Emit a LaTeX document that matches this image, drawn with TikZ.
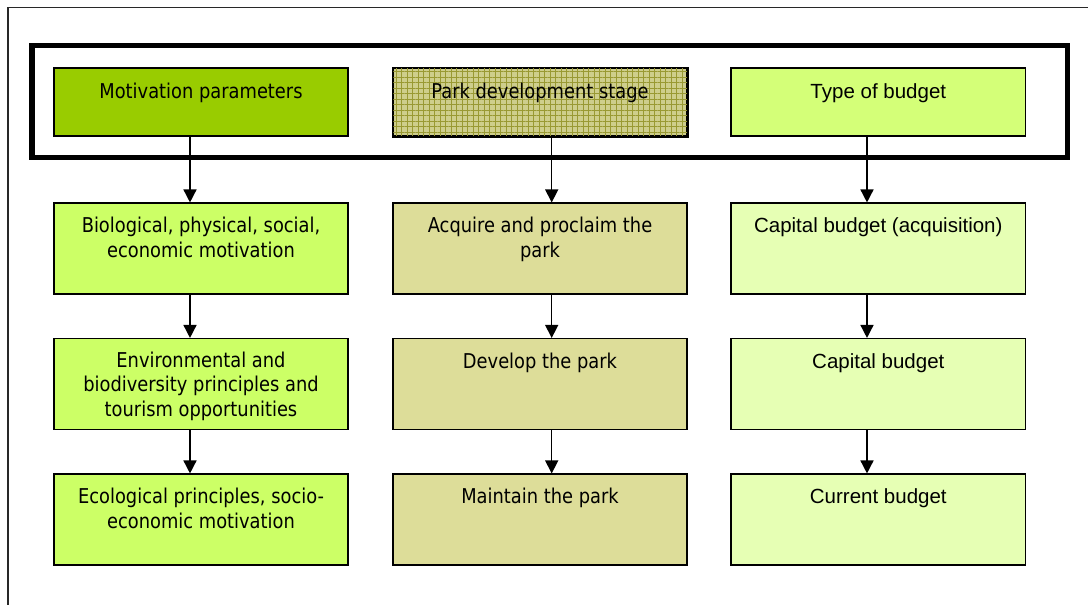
\documentclass[tikz,border=0pt]{standalone}
\usepackage{fontspec}
\usetikzlibrary{arrows.meta,patterns.meta}
\newfontfamily\tahomalike[FakeStretch=0.875]{DejaVu Sans}
\newfontfamily\ariallike{Liberation Sans}
\definecolor{hdrone}{RGB}{153,204,0}
\definecolor{rowone}{RGB}{204,255,102}
\definecolor{hdrtwo}{RGB}{206,206,140}
\definecolor{gridtwo}{RGB}{153,153,51}
\definecolor{rowtwo}{RGB}{221,221,153}
\definecolor{hdrthree}{RGB}{212,255,120}
\definecolor{rowthree}{RGB}{230,255,180}
\definecolor{framegrey}{RGB}{40,40,40}
\tikzset{
  box/.style={draw=black, line width=1.5pt, rectangle, inner sep=0pt, minimum width=294pt},
  hdrbox/.style={box, minimum height=68pt},
  rowbox/.style={box, minimum height=91pt},
  txtl/.style={inner sep=0pt, anchor=north, align=center, text=black,
    font=\tahomalike\fontsize{20.4}{24.6}\selectfont},
  txtr/.style={inner sep=0pt, anchor=north, align=center, text=black,
    font=\ariallike\fontsize{20.5}{24.6}\selectfont},
  arr/.style={draw=black, line width=1.5pt, -{Triangle[width=13pt,length=13pt]}},
}
\newcommand{\firstline}{\rule{0pt}{17pt}}
\begin{document}
\begin{tikzpicture}[x=1pt,y=-1pt]
\useasboundingbox (0,0) rectangle (1088,605);
% outer frame (left and top only visible)
\coordinate (fbl) at (8,606);
\coordinate (ftl) at (8,7.5);
\coordinate (ftr) at (1089,7.5);
\draw[framegrey, line width=1.6pt] (fbl) -- (ftl) -- (ftr);
% thick header frame
\coordinate (thtl) at (32,45.5);
\coordinate (thbr) at (1067.5,157.5);
\draw[black, line width=5.5pt] (thtl) rectangle (thbr);
% header boxes
\node[hdrbox, fill=hdrone] (h1) at (201,102) {};
\node[hdrbox, fill=hdrtwo] (h2) at (540,102) {};
\fill[pattern={Hatch[angle=0,distance=5.5pt,line width=0.7pt]}, pattern color=gridtwo]
  (h2.south west) rectangle (h2.north east);
\draw[black, line width=1.5pt] (h2.south west) rectangle (h2.north east);
\node[hdrbox, fill=hdrthree, minimum width=294.7pt] (h3) at (878.3,102) {};
% row boxes
\node[rowbox, fill=rowone] (a1) at (201,248.7) {};
\node[rowbox, fill=rowone] (a2) at (201,384.2) {};
\node[rowbox, fill=rowone] (a3) at (201,519.7) {};
\node[rowbox, fill=rowtwo] (b1) at (540,248.7) {};
\node[rowbox, fill=rowtwo] (b2) at (540,384.2) {};
\node[rowbox, fill=rowtwo] (b3) at (540,519.7) {};
\node[rowbox, fill=rowthree, minimum width=294.7pt] (c1) at (878.3,248.7) {};
\node[rowbox, fill=rowthree, minimum width=294.7pt] (c2) at (878.3,384.2) {};
\node[rowbox, fill=rowthree, minimum width=294.7pt] (c3) at (878.3,519.7) {};
% texts
\node[txtl] (h1t) at ([yshift=-14pt]h1.north) {\firstline Motivation parameters};
\node[txtl] (h2t) at ([yshift=-14pt]h2.north) {\firstline Park development stage};
\node[txtr] (h3t) at ([yshift=-14pt]h3.north) {\firstline Type of budget};
\node[txtl] (a1t) at ([yshift=-13pt]a1.north) {\firstline Biological, physical, social,\\economic motivation};
\begin{scope}
\clip ([xshift=1pt]a2.north west) rectangle ([xshift=-1pt,yshift=10pt]a2.south east);
\node[txtl] (a2t) at ([yshift=-12pt]a2.north) {\firstline Environmental and\\biodiversity principles and\\tourism opportunities};
\end{scope}
\node[txtl] (a3t) at ([yshift=-13pt]a3.north) {\firstline Ecological principles, socio-\\economic motivation};
\node[txtl] (b1t) at ([yshift=-13pt]b1.north) {\firstline Acquire and proclaim the\\park};
\node[txtl] (b2t) at ([yshift=-13pt]b2.north) {\firstline Develop the park};
\node[txtl] (b3t) at ([yshift=-13pt]b3.north) {\firstline Maintain the park};
\node[txtr] (c1t) at ([yshift=-13pt]c1.north) {\firstline Capital budget (acquisition)};
\node[txtr] (c2t) at ([yshift=-13pt]c2.north) {\firstline Capital budget};
\node[txtr] (c3t) at ([yshift=-13pt]c3.north) {\firstline Current budget};
% arrows
\draw[arr] ([xshift=-11pt]h1.south) -- ([xshift=-11pt]a1.north);
\draw[arr] ([xshift=-11pt]a1.south) -- ([xshift=-11pt]a2.north);
\draw[arr] ([xshift=-11pt]a2.south) -- ([xshift=-11pt]a3.north);
\draw[arr] ([xshift=11.7pt]h2.south) -- ([xshift=11.7pt]b1.north);
\draw[arr] ([xshift=11.7pt]b1.south) -- ([xshift=11.7pt]b2.north);
\draw[arr] ([xshift=11.7pt]b2.south) -- ([xshift=11.7pt]b3.north);
\draw[arr] ([xshift=-11.3pt]h3.south) -- ([xshift=-11.3pt]c1.north);
\draw[arr] ([xshift=-11.3pt]c1.south) -- ([xshift=-11.3pt]c2.north);
\draw[arr] ([xshift=-11.3pt]c2.south) -- ([xshift=-11.3pt]c3.north);
\end{tikzpicture}
\end{document}
